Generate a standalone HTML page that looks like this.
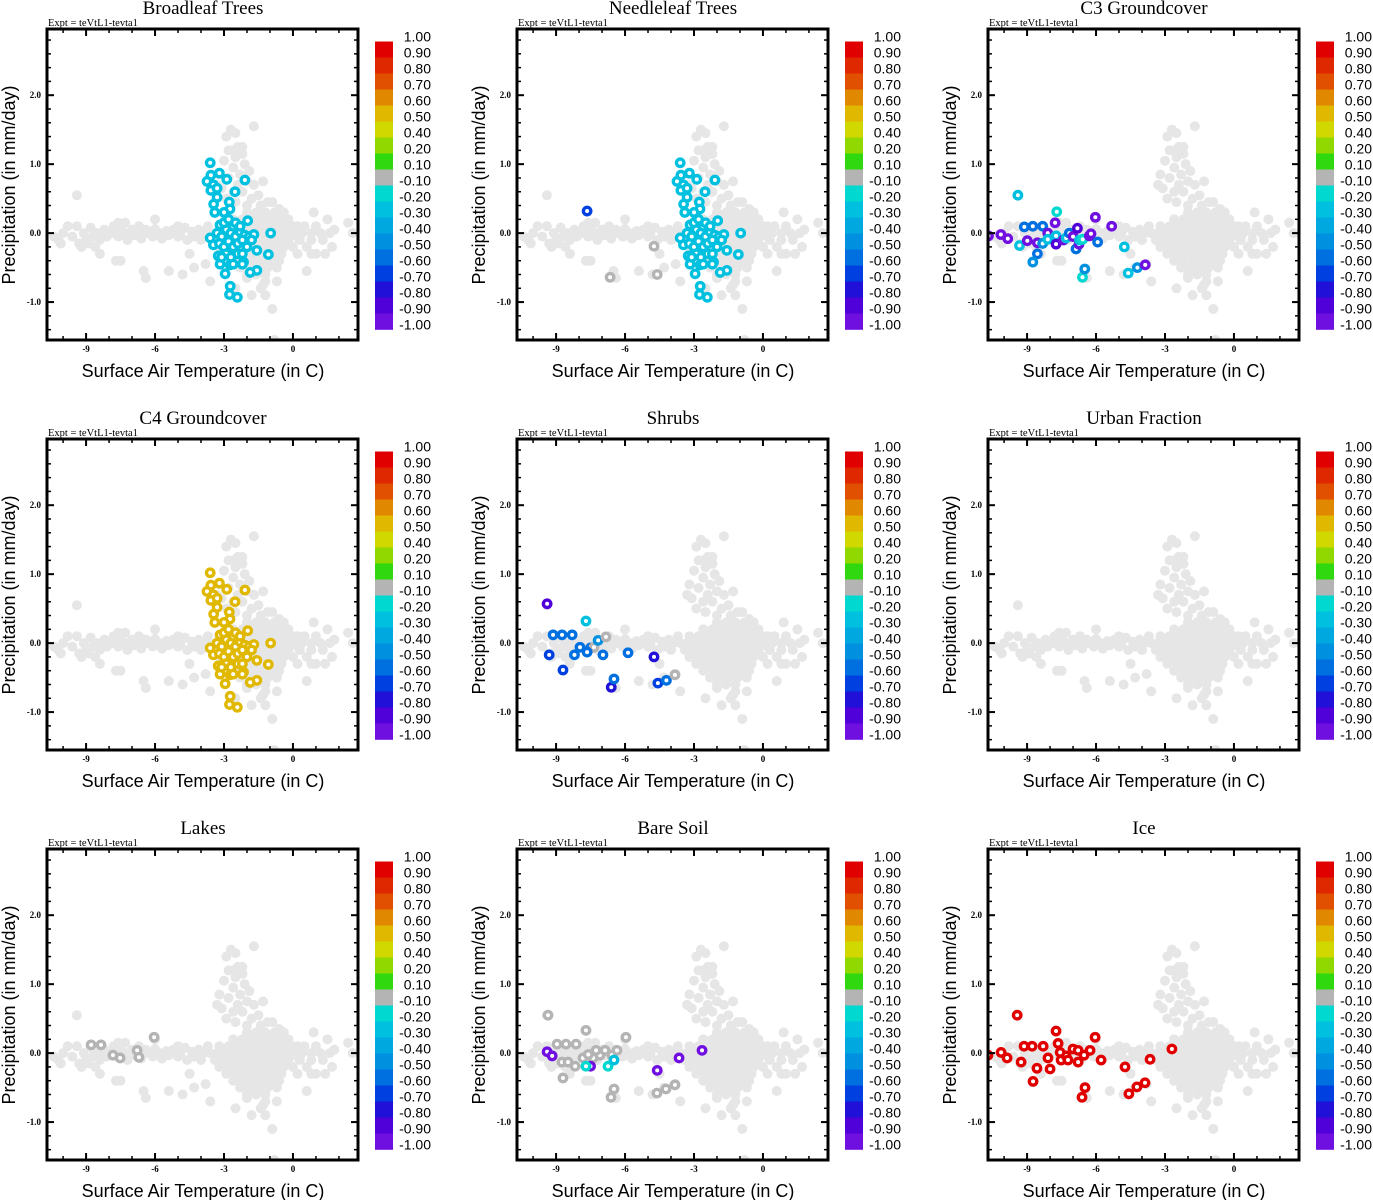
<!DOCTYPE html>
<html><head><meta charset="utf-8"><style>
html,body{margin:0;padding:0;background:#fff;}
svg{display:block;}
.ttl{font-family:"Liberation Serif",serif;font-size:19px;}
.expt{font-family:"Liberation Serif",serif;font-size:10.5px;}
.tk{font-family:"Liberation Serif",serif;font-size:9px;font-weight:bold;}
.axl{font-family:"Liberation Sans",sans-serif;font-size:18px;}
.cbl{font-family:"Liberation Sans",sans-serif;font-size:14px;}
</style></head><body>
<svg id="chart" width="1373" height="1200" viewBox="0 0 1373 1200" xmlns="http://www.w3.org/2000/svg"></svg>
<script>
const titles = ["Broadleaf Trees","Needleleaf Trees","C3 Groundcover","C4 Groundcover","Shrubs","Urban Fraction","Lakes","Bare Soil","Ice"];
const xTicks = [-9,-6,-3,0];
const yTicks = [-1,0,1,2];
const yTickLabels = ["-1.0","0.0","1.0","2.0"];
const cbLabels = [1,0.9,0.8,0.7,0.6,0.5,0.4,0.2,0.1,-0.1,-0.2,-0.3,-0.4,-0.5,-0.6,-0.7,-0.8,-0.9,-1];
const cbColors = ["#e00000","#e02800","#e05000","#e08800","#e0b800","#d0d800","#90d800","#30d810","#b4b4b4","#00d8d0","#00c0e0","#00a8e0","#0090e0","#0070e0","#0040e0","#2010d8","#5000d8","#7010e0"];

// background cloud (temperature, precipitation)
const greyT = [-10.4,-10.2,-10,-9.8,-9.6,-9.4,-9.3,-9.1,-9,-8.8,-8.7,-8.5,-8.4,-8.2,-8.1,-7.9,-7.8,-7.6,-7.5,-7.3,-7.2,-7,-6.9,-6.7,-6.6,-6.4,-6.3,-6.1,-6,-5.8,-5.7,-5.5,-5.4,-5.2,-5,-4.9,-4.7,-4.6,-4.4,-4.3,-4.1,-4,-3.9,
-9.4,-8.4,-8.6,-7.7,-7.5,-6.5,-6.4,-5.4,-6,-4.8,-4.3,-4.5,-3.8,-3.6,-3.7,-9.2,-10.1,-8.9,-7.3,-5,-7.6,-6.7,
-2.7,-2.5,-2.9,-1.7,-2.6,-2.8,-2.4,-2.2,-2.5,-3,-2.1,-2.6,-2.3,-1.9,-3.2,-2.8,-2.4,-2,-3.1,-2.6,-2.2,-1.7,-1.3,-2.9,-2.5,-1.8,-1.5,-2,-1.4,-1.1,-3.3,-2.2,-2.35,
-2,-1.6,-1.2,-0.8,-0.4,
-2.6,-2.2,-1.8,-1.4,-1,-0.6,-0.2,
-3.2,-2.8,-2.4,-2,-1.6,-1.2,-0.8,-0.4,0,0.5,1,
-3.6,-3.3,-3,-2.7,-2.4,-2.1,-1.8,-1.5,-1.2,-0.9,-0.6,-0.3,0,0.4,0.8,1.2,1.6,
-3.4,-3,-2.6,-2.2,-1.8,-1.4,-1,-0.6,-0.2,0.3,0.8,1.3,
-3.2,-2.8,-2.4,-2,-1.6,-1.2,-0.8,-0.4,0,0.6,
-2.9,-2.5,-2.1,-1.7,-1.3,-0.9,-0.5,0.2,1,
-2.6,-2.2,-1.8,-1.4,-1,-0.6,
-2.3,-1.9,-1.5,-1.1,-0.7,
-2,-1.6,-1.2,
-2.5,-1.8,-1.4,-1.2,-0.9,-0.7,-1.3,0.9,1.5,2.4,2.6,1.7,0.8,1.4,0.6,-0.6,-0.9,0.2,1.8,-0.8,
-1.0,-1.4,-1.8,-0.5,-0.3,-1.6,-1.1,-0.7,-2.0,-1.2,
-1.8,-1.4,-1.0,-0.6,-1.6,-1.2,-0.8,-0.4,-2.0,-1.5,-1.0,-0.5,-1.8,-1.3,-0.8,-0.3,-2.2,-1.7,-1.2,-0.7,-2.0,-1.5,-1.0,-1.7,-1.3,-0.9,-1.4,-1.0,-2.4,-2.8,-3.2,-2.6,-0.2,0.2];
const greyP = [-0.05,-0.1,0,0.1,-0.05,0.1,-0.15,0,-0.1,0.08,-0.05,0,-0.1,0.05,-0.05,0,0.1,-0.05,0.05,0,-0.1,0.05,-0.03,0.02,-0.08,0.05,0,-0.05,0.06,0,-0.08,0.03,-0.03,0.05,-0.05,0,0.08,-0.1,0.02,-0.05,0.05,-0.1,0,
0.55,-0.3,-0.2,-0.4,-0.4,-0.55,-0.65,-0.55,0.2,-0.6,-0.5,-0.3,-0.45,-0.7,0.1,-0.2,-0.15,-0.15,0.15,0.1,0.15,0.1,
1.5,1.45,1.4,1.55,1.2,1.2,1.25,1.15,1.1,1.05,1,0.95,0.85,0.9,0.85,0.8,0.7,0.75,0.65,0.6,0.6,0.7,0.75,0.5,0.45,0.5,0.55,0.4,0.4,0.45,0.7,1.25,1.2,
0.3,0.3,0.3,0.3,0.3,
0.2,0.2,0.2,0.2,0.2,0.2,0.2,
0.1,0.1,0.1,0.1,0.1,0.1,0.1,0.1,0.1,0.1,0.1,
0,0,0,0,0,0,0,0,0,0,0,0,0,0,0,0,0,
-0.1,-0.1,-0.1,-0.1,-0.1,-0.1,-0.1,-0.1,-0.1,-0.1,-0.1,-0.1,
-0.2,-0.2,-0.2,-0.2,-0.2,-0.2,-0.2,-0.2,-0.2,-0.2,
-0.3,-0.3,-0.3,-0.3,-0.3,-0.3,-0.3,-0.3,-0.3,
-0.4,-0.4,-0.4,-0.4,-0.4,-0.4,
-0.5,-0.5,-0.5,-0.5,-0.5,
-0.6,-0.6,-0.6,
-0.8,-0.9,-0.8,-0.9,-1.1,-0.7,-0.75,0.3,0.2,0.15,0,-0.2,-0.3,-0.3,-0.55,0.35,0.45,0.1,0.05,-1.55,
0.05,-0.05,0.15,0.15,-0.15,-0.25,0.25,-0.4,-0.65,-0.7,
0.25,0.25,0.25,0.25,0.15,0.15,0.15,0.15,0.05,0.05,0.05,0.05,-0.05,-0.05,-0.05,-0.05,-0.15,-0.15,-0.15,-0.15,-0.25,-0.25,-0.25,-0.35,-0.35,-0.35,-0.45,-0.45,-0.05,-0.05,-0.05,-0.25,-0.15,-0.05];

// panel 1 broadleaf
const p1T = [-3.6,-3.57,-3.2,-2.88,-2.09,-3.74,-3.46,-3.57,-3.3,-2.52,-3.3,-3.45,-2.77,-3.4,-2.74,-3.17,-1.97,-0.97,-1.07,-1.57,-1.57,-1.86,-2.15,-2.73,-2.95,-2.73,-2.76,-2.42,-3.17,-3.25,-3.6,-3.46,
-3.3,-3.1,-2.9,-2.7,-2.5,-2.3,-2.1,-1.9,-1.7,-3,-2.8,-2.6,-3.2,-3,-2.8,-2.6,-2.4,-2.2,-2,-2.9,-2.7,-2.4,-2.2,-3.1,-2.5,-2.3,-1.8,-2.2,-3,-2.6];
const p1P = [1.02,0.84,0.87,0.78,0.77,0.75,0.7,0.62,0.65,0.6,0.52,0.42,0.45,0.3,0.35,0.12,0.18,0,-0.31,-0.25,-0.54,-0.57,-0.42,-0.46,-0.59,-0.77,-0.89,-0.93,-0.45,-0.33,-0.07,-0.17,
0,-0.05,0.05,0,-0.05,0.02,-0.03,-0.05,-0.02,0.15,0.2,0.1,-0.15,-0.2,-0.12,-0.2,-0.15,-0.1,-0.2,-0.3,-0.35,-0.3,-0.3,-0.35,0.15,0.1,-0.1,-0.45,0.3,-0.45];
const p1V = p1T.map(()=>-0.25);
// panel 2 needleleaf
const p2T = p1T.concat([-6.65,-4.74,-4.6,-7.65]);
const p2P = p1P.concat([-0.64,-0.19,-0.6,0.32]);
const p2V = p1T.map(()=>-0.25).concat([0,0,0,-0.65]);
// panel 3 C3
const p3T = [-10.68,-10.14,-9.84,-9.4,-9.33,-9.12,-8.99,-8.75,-8.55,-8.55,-8.75,-8.32,-8.32,-8.1,-8.1,-7.78,-7.71,-7.74,-7.74,-7.42,-7.3,-7.16,-7.0,-6.81,-6.87,-6.74,-6.72,-6.58,-6.29,-6.22,-6.03,-5.93,-6.59,-6.49,-5.32,-4.77,-4.6,-4.2,-3.86];
const p3P = [-0.04,-0.02,-0.08,0.55,-0.18,0.09,-0.11,0.1,-0.14,-0.3,-0.42,0.1,-0.15,0,-0.09,0.15,0.31,-0.04,-0.16,-0.1,-0.07,0,-0.05,0.07,-0.23,-0.16,-0.1,-0.09,-0.04,-0.01,0.23,-0.13,-0.64,-0.52,0.1,-0.2,-0.58,-0.5,-0.46];
const p3V = [-0.95,-0.95,-0.95,-0.25,-0.25,-0.55,-0.95,-0.55,-0.95,-0.55,-0.45,-0.55,-0.45,-0.95,-0.25,-0.95,-0.15,-0.25,-0.85,-0.95,-0.25,-0.55,-0.95,-0.85,-0.55,-0.95,-0.25,-0.15,-0.95,-0.95,-0.95,-0.55,-0.15,-0.45,-0.95,-0.25,-0.25,-0.45,-0.95];
// panel 4 C4
const p4T = p1T.slice();
const p4P = p1P.slice();
const p4V = p1T.map(()=>0.55);
// panel 5 shrubs
const p5T = [-9.39,-9.13,-8.74,-8.3,-7.7,-9.3,-8.7,-8.2,-7.96,-7.5,-7.35,-7.17,-6.83,-6.96,-6.6,-6.48,-5.87,-4.74,-4.57,-4.2,-3.83,-7.65];
const p5P = [0.57,0.12,0.12,0.12,0.32,-0.17,-0.39,-0.17,-0.06,-0.07,-0.06,0.04,0.09,-0.17,-0.64,-0.52,-0.14,-0.2,-0.58,-0.54,-0.46,-0.13];
const p5V = [-0.85,-0.55,-0.55,-0.55,-0.25,-0.65,-0.65,-0.55,-0.55,-0.55,0,-0.45,0,-0.55,-0.75,-0.55,-0.55,-0.75,-0.65,-0.55,0,-0.55];
// panel 6 urban
const p6T = [], p6P = [], p6V = [];
// panel 7 lakes
const p7T = [-8.78,-8.35,-7.83,-7.52,-6.78,-6.7,-6.04];
const p7P = [0.12,0.12,-0.03,-0.07,0.04,-0.06,0.23];
const p7V = [0,0,0,0,0,0,0];
// panel 8 bare soil
const p8T = [-9.35,-8.96,-8.57,-8.13,-7.7,-8.74,-8.48,-8.7,-8.17,-7.83,-7.39,-7.09,-6.87,-6.57,-6.35,-5.96,-6.61,-6.48,-4.61,-4.22,-3.83,-7.6,-7.26,
-9.39,-9.17,-7.5,-6.74,-6.48,-4.6,-3.65,-2.65,-7.7];
const p8P = [0.55,0.13,0.13,0.13,0.33,-0.13,-0.13,-0.36,-0.19,-0.07,-0.07,-0.03,0.04,-0.03,0.04,0.23,-0.64,-0.52,-0.58,-0.52,-0.46,-0.02,0.04,
0.02,-0.04,-0.19,-0.19,-0.1,-0.25,-0.07,0.04,-0.19];
const p8V = [0,0,0,0,0,0,0,0,0,0,0,0,0,0,0,0,0,0,0,0,0,0,0,
-0.95,-0.95,-0.95,-0.15,-0.25,-0.95,-0.95,-0.95,-0.15];
// panel 9 ice
const p9T = [-10.7,-10.13,-9.87,-9.43,-9.26,-9.13,-8.78,-8.74,-8.57,-8.3,-8.09,-8.0,-7.74,-7.65,-7.52,-7.3,-7.22,-7.0,-6.78,-6.61,-6.48,-6.52,-6.26,-6.04,-5.78,-4.74,-4.57,-4.22,-3.87,-3.65,-2.7,-6.78,-7.56];
const p9P = [-0.03,0.01,-0.07,0.55,-0.13,0.1,0.1,-0.41,-0.22,0.1,-0.07,-0.23,0.32,0.14,-0.1,-0.04,-0.1,0.06,-0.13,-0.64,-0.5,-0.03,0.04,0.23,-0.1,-0.2,-0.59,-0.49,-0.43,-0.09,0.06,0.04,0.01];
const p9V = p9T.map(()=>0.95);

const panelT = [p1T,p2T,p3T,p4T,p5T,p6T,p7T,p8T,p9T];
const panelP = [p1P,p2P,p3P,p4P,p5P,p6P,p7P,p8P,p9P];
const panelV = [p1V,p2V,p3V,p4V,p5V,p6V,p7V,p8V,p9V];

const NS = "http://www.w3.org/2000/svg";
const svg = document.getElementById("chart");
function mk(tag, attrs, parent, text){
  const e = document.createElementNS(NS, tag);
  for (const k in attrs) e.setAttribute(k, attrs[k]);
  if (text !== undefined) e.textContent = text;
  parent.appendChild(e);
  return e;
}
const X0=47, X1=358, Y0=29, Y1=340;
const xMin=-10.7, xMax=2.83, yMin=-1.55, yMax=2.96;
function sx(t){ return X0 + (t - xMin)/(xMax - xMin)*(X1 - X0); }
function sy(p){ return Y1 - (p - yMin)/(yMax - yMin)*(Y1 - Y0); }
function colorOf(v){
  for (let i=0;i<cbColors.length;i++){ if (v >= cbLabels[i+1]) return cbColors[i]; }
  return cbColors[cbColors.length-1];
}
const colOff=[0,470,941], rowOff=[0,410,820];

for (let k=0;k<9;k++){
  const g = mk("g",{transform:`translate(${colOff[k%3]},${rowOff[Math.floor(k/3)]})`},svg);
  
  
  const t = mk("text",{x:203,y:14,"text-anchor":"middle",class:"ttl"},g,titles[k]);
  
  
  const ex = mk("text",{x:48,y:26,class:"expt"},g,"Expt = teVtL1-tevta1");
  
  
  const clip = mk("clipPath",{id:"c"+k},g);
  mk("rect",{x:X0,y:Y0,width:X1-X0,height:Y1-Y0},clip);
  const pts = mk("g",{"clip-path":`url(#c${k})`},g);
  
  
  for (let i=0;i<greyT.length;i++){
    const c = mk("circle",{cx:sx(greyT[i]),cy:sy(greyP[i]),r:5,fill:"#e6e6e6"},pts);
    
    
  }
  const T=panelT[k], P=panelP[k], V=panelV[k];
  for (let i=0;i<T.length;i++){
    const c = mk("circle",{cx:sx(T[i]),cy:sy(P[i]),r:3.7,fill:"#fff",stroke:colorOf(V[i]),"stroke-width":3.4},pts);
    
    
  }
  const fr = mk("rect",{x:X0,y:Y0,width:X1-X0,height:Y1-Y0,fill:"none",stroke:"#000","stroke-width":3},g);
  
  
  for (let t=-10;t<=2;t++){
    const major = xTicks.indexOf(t)>=0, L = major?7:4;
    mk("line",{x1:sx(t),x2:sx(t),y1:Y1,y2:Y1-L,stroke:"#000","stroke-width":major?2:1.5},g);
    mk("line",{x1:sx(t),x2:sx(t),y1:Y0,y2:Y0+L,stroke:"#000","stroke-width":major?2:1.5},g);
  }
  for (let j=-7;j<=14;j++){
    const p=j*0.2, major = (j%5===0), L = major?7:4;
    mk("line",{x1:X0,x2:X0+L,y1:sy(p),y2:sy(p),stroke:"#000","stroke-width":major?2:1.5},g);
    mk("line",{x1:X1,x2:X1-L,y1:sy(p),y2:sy(p),stroke:"#000","stroke-width":major?2:1.5},g);
  }
  xTicks.forEach(t=>{
    const l = mk("text",{x:sx(t),y:352,"text-anchor":"middle",class:"tk"},g,String(t));
    
    
  });
  yTicks.forEach((p,i)=>{
    const l = mk("text",{x:41,y:sy(p)+3,"text-anchor":"end",class:"tk"},g,yTickLabels[i]);
    
    
  });
  const xl = mk("text",{x:203,y:377,"text-anchor":"middle",class:"axl"},g,"Surface Air Temperature (in C)");
  
  
  const yl = mk("text",{x:0,y:0,"text-anchor":"middle",class:"axl",transform:"translate(15,185) rotate(-90)"},g,"Precipitation (in mm/day)");
  
  
  const cb = mk("g",{},g);
  
  
  const cbTop=41.5, cbH=16;
  cbColors.forEach((col,i)=>{
    const r = mk("rect",{x:375,y:cbTop+i*cbH,width:18,height:cbH+0.3,fill:col},cb);
    
    
  });
  cbLabels.forEach((v,i)=>{
    const l = mk("text",{x:431,y:cbTop+i*cbH,"text-anchor":"end",class:"cbl"},cb,v.toFixed(2));
    
    
  });
}
</script>
</body></html>
